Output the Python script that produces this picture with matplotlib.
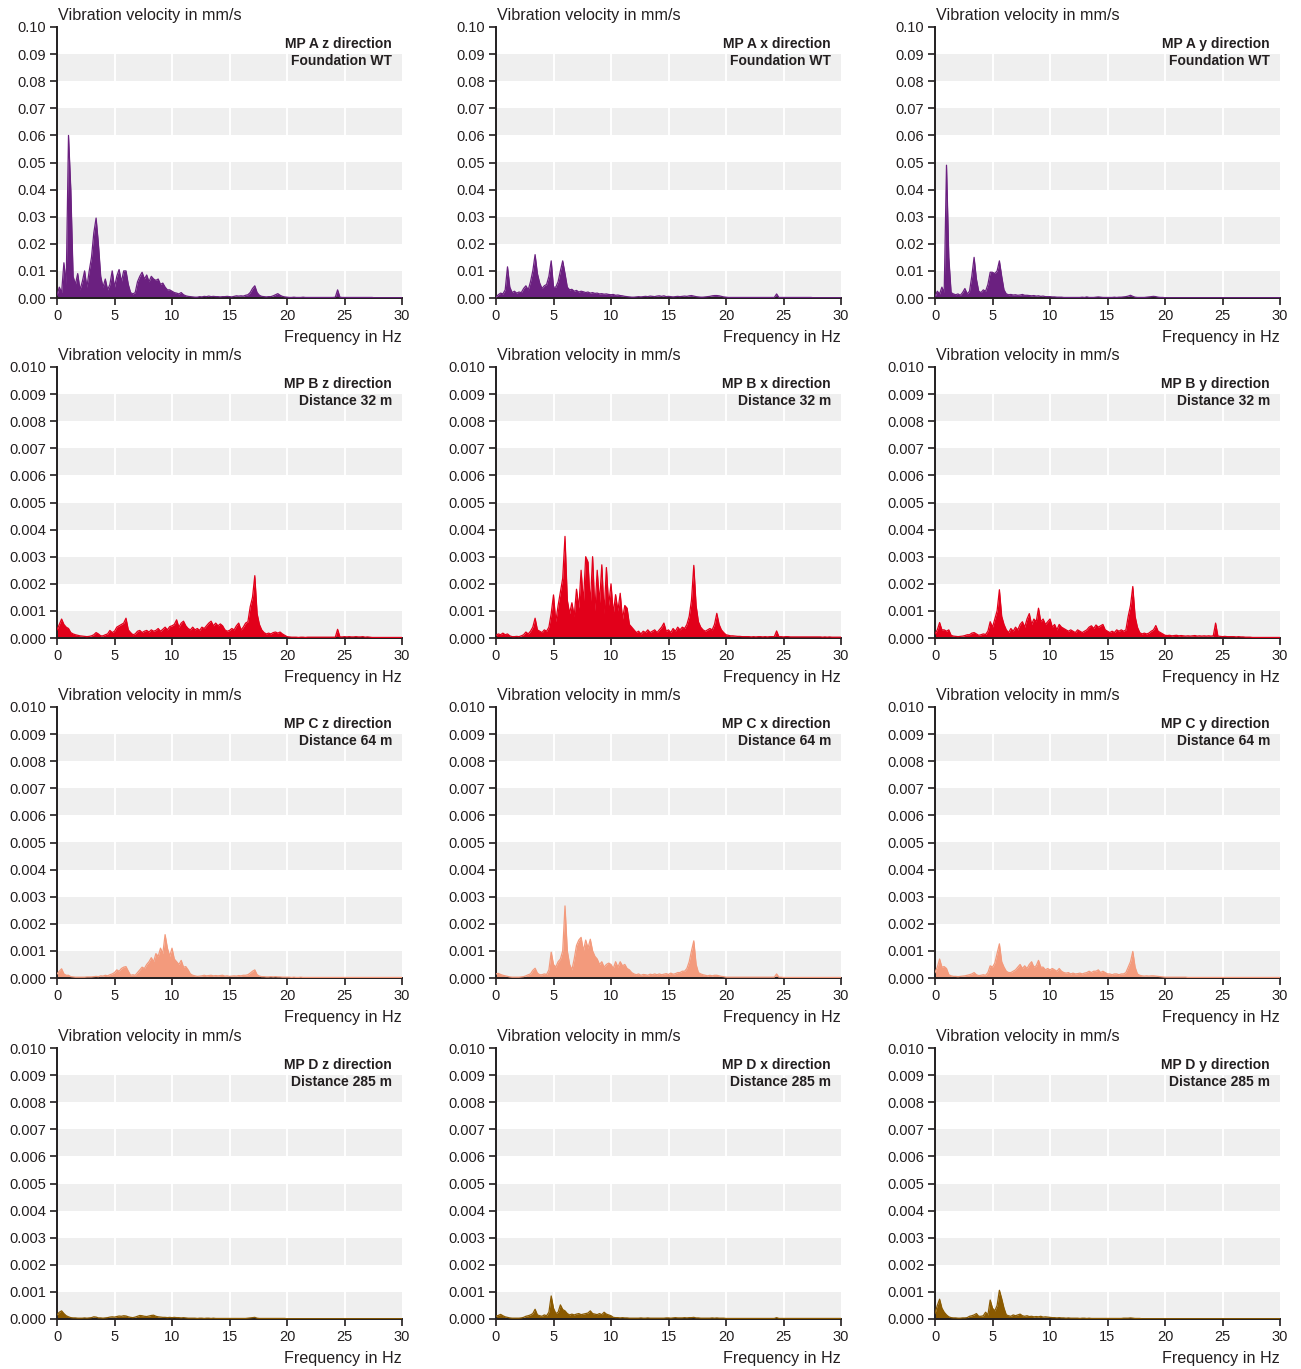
import numpy as np
import matplotlib
matplotlib.use("Agg")
import matplotlib.pyplot as plt

plt.rcParams['font.family'] = ['Liberation Sans', 'DejaVu Sans']

# spectra sampled 0..30 Hz every 0.2 Hz (151 values)
# MP A values in 0.001 mm/s, MP B-D values in 0.0001 mm/s
freq_step = 0.2
x_ticks = [0, 5, 10, 15, 20, 25, 30]

mp_a_z = [1, 4, 2, 13, 5, 60, 40, 8, 5, 9,
          3, 6, 10, 4, 10, 15, 24, 29.5, 20, 8,
          4, 7, 3, 5, 10, 4, 8, 10.5, 6, 10,
          10, 5, 2, 1.5, 2, 6, 8, 9.5, 7, 8.5,
          6, 8, 7, 6.5, 7, 5, 5.5, 4, 3, 3,
          2.5, 2, 1.8, 1.5, 2, 1.2, 0.8, 0.6, 0.5, 0.4,
          0.3, 0.3, 0.5, 0.4, 0.6, 0.5, 0.7, 0.5, 0.6, 0.5,
          0.5, 0.4, 0.5, 0.5, 0.6, 0.5, 0.4, 0.6, 0.8, 0.7,
          0.8, 0.7, 1.0, 1.2, 2, 3.5, 4.5, 2, 1, 0.6,
          0.5, 0.4, 0.5, 0.5, 0.8, 1.2, 1.6, 1.0, 0.6, 0.4,
          0.3, 0.2, 0.2, 0.3, 0.2, 0.2, 0.2, 0.3, 0.2, 0.2,
          0.2, 0.2, 0.2, 0.2, 0.2, 0.2, 0.2, 0.2, 0.2, 0.2,
          0.2, 0.3, 3.0, 0.3, 0.2, 0.2, 0.2, 0.2, 0.2, 0.2,
          0.2, 0.2, 0.2, 0.2, 0.2, 0.2, 0.2, 0.2, 0.1, 0.1,
          0.1, 0.1, 0.1, 0.1, 0.1, 0.1, 0.1, 0.1, 0.1, 0.1,
          0.1]

mp_a_x = [0.3, 1.2, 1.8, 1.5, 3, 11.5, 4, 2, 2.5, 1.8,
          2.2, 2, 3.5, 4.5, 3, 6, 10, 16, 9, 5.5,
          3.5, 4.5, 5, 8, 13.7, 4, 4, 6, 10, 13.7,
          9, 4, 3, 3.2, 2.5, 2.8, 2.2, 2.5, 2.3, 2,
          2.2, 1.8, 2, 1.7, 1.8, 1.5, 1.6, 1.4, 1.5, 1.3,
          1.2, 1.3, 1.0, 1.1, 0.9, 0.8, 0.6, 0.5, 0.4, 0.3,
          0.3, 0.4, 0.5, 0.4, 0.5, 0.6, 0.5, 0.7, 0.6, 0.5,
          0.7, 0.8, 0.6, 0.8, 0.5, 0.6, 0.5, 0.4, 0.5, 0.6,
          0.5, 0.6, 0.7, 0.6, 0.8, 0.9, 0.7, 0.5, 0.4, 0.3,
          0.3, 0.4, 0.5, 0.6, 0.8, 0.9, 0.9, 0.8, 0.6, 0.4,
          0.3, 0.2, 0.2, 0.2, 0.2, 0.2, 0.2, 0.2, 0.2, 0.2,
          0.2, 0.2, 0.2, 0.2, 0.2, 0.2, 0.2, 0.2, 0.2, 0.2,
          0.2, 0.2, 1.5, 0.2, 0.2, 0.2, 0.2, 0.2, 0.2, 0.2,
          0.2, 0.2, 0.2, 0.2, 0.2, 0.2, 0.2, 0.2, 0.1, 0.1,
          0.1, 0.1, 0.1, 0.1, 0.1, 0.1, 0.1, 0.1, 0.1, 0.1,
          0.1]

mp_a_y = [0.5, 2.5, 1.5, 4, 2, 49, 15, 2, 1.5, 1.2,
          1.5, 1, 2, 3.5, 1.5, 2.5, 8, 15, 7, 2.5,
          2, 3, 2.5, 5, 9.5, 9.5, 9, 10, 13.7, 8,
          3, 1.5, 1.2, 1.3, 1.1, 1.2, 1.0, 1.1, 1.3, 1.0,
          1.0, 0.9, 0.8, 0.9, 0.7, 0.8, 0.6, 0.7, 0.5, 0.5,
          0.5, 0.4, 0.4, 0.3, 0.3, 0.3, 0.2, 0.2, 0.2, 0.2,
          0.2, 0.2, 0.2, 0.2, 0.3, 0.2, 0.4, 0.2, 0.2, 0.2,
          0.3, 0.4, 0.3, 0.2, 0.2, 0.2, 0.2, 0.2, 0.3, 0.2,
          0.3, 0.3, 0.4, 0.5, 0.7, 1.0, 0.6, 0.3, 0.2, 0.2,
          0.2, 0.2, 0.3, 0.4, 0.5, 0.6, 0.5, 0.3, 0.2, 0.2,
          0.1, 0.1, 0.1, 0.1, 0.1, 0.1, 0.1, 0.1, 0.1, 0.1,
          0.1, 0.1, 0.1, 0.1, 0.1, 0.1, 0.1, 0.1, 0.1, 0.1,
          0.1, 0.1, 0.1, 0.1, 0.1, 0.1, 0.1, 0.1, 0.1, 0.1,
          0.1, 0.1, 0.1, 0.1, 0.1, 0.1, 0.1, 0.1, 0.1, 0.1,
          0.1, 0.1, 0.1, 0.1, 0.1, 0.1, 0.1, 0.1, 0.1, 0.1,
          0.1]

mp_b_z = [3, 5, 7, 5, 4, 3.5, 2, 1.5, 1.2, 1,
          0.8, 0.7, 0.6, 0.5, 0.6, 0.8, 1.2, 2, 1.5, 0.8,
          0.8, 1.2, 1.5, 2.8, 2, 2.5, 4, 4.5, 5, 5.5,
          7.3, 3, 2, 1.2, 1.5, 2.5, 2.8, 2, 2.5, 2.8,
          2.2, 3, 2.5, 2.8, 3.5, 2.5, 3.2, 4, 3, 4.2,
          4.5, 5, 6.7, 4, 5.5, 6.2, 4.5, 3.5, 3, 4,
          3, 3.5, 2.8, 4, 3.5, 4.5, 5.5, 6.2, 4.5, 5.5,
          4.5, 5.2, 4.5, 3, 2.5, 2.8, 3.5, 3, 4.5, 5.5,
          3, 4, 5.5, 6, 11.5, 15, 23, 9, 5, 3,
          2, 1.5, 1.8, 1.5, 2, 2.2, 1.8, 2.2, 1.5, 1.0,
          0.5, 0.4, 0.3, 0.3, 0.3, 0.2, 0.3, 0.3, 0.2, 0.3,
          0.3, 0.3, 0.3, 0.3, 0.3, 0.3, 0.3, 0.3, 0.3, 0.3,
          0.3, 0.3, 3.2, 0.4, 0.4, 0.5, 0.4, 0.5, 0.4, 0.4,
          0.5, 0.4, 0.4, 0.5, 0.3, 0.4, 0.3, 0.2, 0.2, 0.2,
          0.2, 0.2, 0.2, 0.2, 0.2, 0.2, 0.2, 0.2, 0.2, 0.2,
          0.2]

mp_b_x = [1, 1.5, 1.2, 1.8, 1.2, 1.5, 0.8, 0.5, 0.5, 0.6,
          0.5, 0.8, 1.2, 2.2, 1.5, 2.5, 4, 7.3, 3, 2.5,
          2, 3, 2.5, 4, 9, 15.9, 6, 12, 17, 22,
          37.5, 14, 9, 13, 8, 18, 11, 25, 13, 30,
          28, 12, 30, 10, 25, 13, 27, 9, 26, 12,
          20, 9, 16, 10, 16.5, 7, 12, 11, 5, 4,
          3, 2, 2.5, 1.5, 2.5, 2, 3, 2, 2.5, 3,
          2, 3, 4, 5.5, 2.5, 3, 2, 3.5, 2.5, 4,
          3, 4, 3.5, 5, 8, 14, 26.8, 12, 6, 4,
          3, 2.5, 3, 3.5, 3, 5, 9.1, 5, 3, 2,
          1.2, 1.0, 0.8, 0.8, 0.7, 0.6, 0.6, 0.5, 0.5, 0.5,
          0.5, 0.4, 0.5, 0.4, 0.5, 0.5, 0.4, 0.5, 0.4, 0.5,
          0.5, 0.5, 2.6, 0.5, 0.5, 0.4, 0.5, 0.5, 0.4, 0.4,
          0.4, 0.4, 0.4, 0.4, 0.4, 0.4, 0.4, 0.4, 0.4, 0.4,
          0.4, 0.4, 0.3, 0.4, 0.3, 0.4, 0.3, 0.3, 0.3, 0.3,
          0.3]

mp_b_y = [1.5, 3, 5.7, 3, 3, 2.5, 3, 1, 0.7, 0.6,
          0.5, 0.6, 0.7, 0.9, 1.2, 1.2, 1.8, 2, 1.5, 1,
          1.2, 1.5, 1.3, 2.5, 6, 4, 7, 10, 17.8, 8,
          5, 3, 2, 3.5, 2.5, 4, 3, 5, 6, 4,
          7, 9, 5, 7, 6, 11, 6, 7, 5, 6,
          7, 4, 5, 3, 5, 4, 3.5, 3, 2.5, 3,
          2.5, 2, 3, 2.5, 2, 2.5, 3, 4, 4.5, 3.5,
          4.8, 4, 4.5, 5, 3, 2.5, 2, 2.5, 2, 3,
          2.5, 3, 2.5, 3, 8, 12, 19, 8, 4, 2,
          1.5, 1.8, 1.5, 1.8, 2.5, 3, 4.6, 2.5, 2, 1.5,
          1, 0.9, 1, 0.8, 0.9, 1, 0.8, 0.9, 0.8, 0.7,
          0.8, 0.7, 0.8, 0.9, 0.7, 0.8, 0.7, 0.8, 0.7, 0.8,
          0.7, 0.8, 5.5, 0.7, 0.6, 0.5, 0.6, 0.5, 0.5, 0.5,
          0.5, 0.4, 0.5, 0.4, 0.4, 0.3, 0.3, 0.3, 0.2, 0.2,
          0.2, 0.2, 0.2, 0.2, 0.2, 0.2, 0.2, 0.2, 0.2, 0.2,
          0.2]

mp_c_z = [1.5, 2.5, 3.4, 1.5, 1, 1, 0.5, 0.4, 0.3, 0.3,
          0.3, 0.3, 0.3, 0.4, 0.4, 0.4, 0.5, 0.6, 0.5, 0.8,
          0.7, 1, 0.8, 1.2, 1.5, 2, 3, 2.5, 3.5, 4,
          4.2, 2.5, 1, 1.2, 1, 2, 3, 4, 3.5, 5,
          6, 7.5, 6, 9, 8, 11, 9, 16, 11, 8,
          11, 7, 6, 5, 6.5, 4, 4.2, 3, 1.5, 1,
          0.8, 0.6, 0.7, 0.8, 1, 0.8, 0.9, 1, 0.8, 0.9,
          0.8, 0.9, 1, 0.7, 0.8, 0.6, 0.7, 0.8, 0.7, 0.9,
          0.8, 1, 1, 1.2, 1.8, 2.5, 3, 1.2, 0.7, 0.5,
          0.5, 0.4, 0.4, 0.5, 0.4, 0.5, 0.4, 0.4, 0.3, 0.3,
          0.3, 0.3, 0.2, 0.3, 0.2, 0.2, 0.3, 0.2, 0.2, 0.2,
          0.2, 0.2, 0.2, 0.2, 0.2, 0.2, 0.2, 0.2, 0.2, 0.2,
          0.2, 0.2, 0.2, 0.2, 0.2, 0.2, 0.2, 0.2, 0.2, 0.2,
          0.2, 0.2, 0.2, 0.2, 0.2, 0.2, 0.2, 0.2, 0.2, 0.2,
          0.2, 0.2, 0.2, 0.2, 0.2, 0.2, 0.2, 0.2, 0.2, 0.2,
          0.2]

mp_c_x = [1.5, 1.7, 1.3, 1, 0.8, 0.6, 0.4, 0.3, 0.3, 0.3,
          0.3, 0.4, 0.5, 0.8, 1.2, 1.5, 2.8, 3.6, 1.8, 1.2,
          1.2, 1.5, 1.3, 3, 9.5, 5, 4, 6, 7, 10,
          26.6, 10, 5, 3, 7, 12, 14, 15, 10, 14,
          11, 14.3, 10, 8, 7, 5, 6, 4, 5, 5.5,
          5, 3.5, 6, 4, 6, 4.5, 5, 3.5, 3, 2,
          1.5, 1.2, 1.5, 1, 1.3, 1.2, 1, 1.4, 1.2, 1.5,
          1.2, 1.5, 1.2, 1.4, 1.6, 1.3, 1.8, 1.4, 1.6, 2,
          2, 2.5, 2.5, 3.5, 6, 10, 13.7, 5, 2, 1.5,
          1.2, 1, 0.8, 1, 0.8, 1, 1, 0.8, 0.6, 0.5,
          0.3, 0.3, 0.3, 0.3, 0.3, 0.3, 0.3, 0.3, 0.3, 0.3,
          0.3, 0.3, 0.3, 0.3, 0.3, 0.3, 0.3, 0.3, 0.3, 0.3,
          0.3, 0.3, 1.5, 0.3, 0.3, 0.2, 0.2, 0.2, 0.2, 0.2,
          0.2, 0.2, 0.2, 0.2, 0.2, 0.2, 0.2, 0.2, 0.2, 0.2,
          0.2, 0.2, 0.2, 0.2, 0.2, 0.2, 0.2, 0.2, 0.2, 0.2,
          0.2]

mp_c_y = [2, 4, 7, 4, 4.2, 3.5, 1.2, 0.8, 0.6, 0.6,
          0.5, 0.6, 0.7, 0.8, 1, 1.2, 1.5, 2, 1.2, 0.9,
          1, 1.2, 1, 2, 4.5, 4, 5.5, 9, 12.6, 6,
          4, 2.5, 2, 2, 2.5, 3, 4, 5, 3.5, 4.5,
          3.5, 5, 6, 4, 4.5, 6.5, 4, 4, 3, 3.5,
          3, 3.5, 3, 2.5, 3.5, 2.5, 2, 1.8, 2, 1.5,
          1.8, 1.5, 1.6, 1.8, 1.5, 1.8, 2, 2.5, 2, 2.5,
          2.5, 3, 2, 2.5, 2, 1.5, 1.5, 1.2, 1.5, 1.5,
          1.2, 1.5, 1.5, 2, 4, 6, 9.8, 4, 1.5, 1,
          0.8, 0.7, 0.8, 0.7, 0.8, 0.8, 0.7, 0.6, 0.5, 0.4,
          0.3, 0.3, 0.3, 0.3, 0.3, 0.3, 0.3, 0.3, 0.3, 0.3,
          0.2, 0.2, 0.2, 0.2, 0.2, 0.2, 0.2, 0.2, 0.2, 0.2,
          0.2, 0.2, 0.2, 0.2, 0.2, 0.2, 0.2, 0.2, 0.2, 0.2,
          0.2, 0.2, 0.2, 0.2, 0.2, 0.2, 0.2, 0.2, 0.2, 0.2,
          0.2, 0.2, 0.2, 0.2, 0.2, 0.2, 0.2, 0.2, 0.2, 0.2,
          0.2]

mp_d_z = [1.5, 2.5, 3, 2, 1.2, 0.8, 0.5, 0.4, 0.4, 0.3,
          0.3, 0.3, 0.4, 0.3, 0.4, 0.5, 0.8, 0.7, 0.4, 0.4,
          0.3, 0.4, 0.5, 0.7, 0.8, 0.7, 0.9, 1.1, 1.0, 1.2,
          1.1, 0.8, 0.6, 0.5, 0.7, 1.0, 1.3, 1.2, 1.0, 0.9,
          1.1, 1.3, 1.4, 1.0, 0.8, 0.7, 0.6, 0.6, 0.5, 0.6,
          0.5, 0.6, 0.5, 0.5, 0.4, 0.5, 0.4, 0.3, 0.3, 0.3,
          0.3, 0.2, 0.3, 0.3, 0.2, 0.3, 0.3, 0.2, 0.3, 0.2,
          0.2, 0.2, 0.2, 0.2, 0.2, 0.2, 0.2, 0.2, 0.2, 0.2,
          0.2, 0.2, 0.2, 0.3, 0.4, 0.5, 0.6, 0.3, 0.2, 0.2,
          0.2, 0.2, 0.2, 0.2, 0.2, 0.2, 0.2, 0.2, 0.2, 0.2,
          0.1, 0.1, 0.1, 0.1, 0.1, 0.1, 0.1, 0.1, 0.1, 0.1,
          0.1, 0.1, 0.1, 0.1, 0.1, 0.1, 0.1, 0.1, 0.1, 0.1,
          0.1, 0.1, 0.1, 0.1, 0.1, 0.1, 0.1, 0.1, 0.1, 0.1,
          0.1, 0.1, 0.1, 0.1, 0.1, 0.1, 0.1, 0.1, 0.1, 0.1,
          0.1, 0.1, 0.1, 0.1, 0.1, 0.1, 0.1, 0.1, 0.1, 0.1,
          0.1]

mp_d_x = [1, 1.3, 1.7, 1.2, 0.8, 0.6, 0.4, 0.3, 0.3, 0.3,
          0.3, 0.4, 0.6, 1, 1.2, 1.5, 2, 3.6, 1.5, 1.2,
          1, 1.5, 1.2, 2.5, 8.5, 4, 2, 2.5, 5.2, 3.5,
          3, 2, 1.5, 1.8, 1.5, 1.8, 2, 1.6, 1.8, 2,
          2.2, 3, 2, 1.8, 1.6, 2, 1.6, 2.5, 1.8, 1.5,
          1.2, 0.6, 0.5, 0.5, 0.4, 0.5, 0.4, 0.4, 0.3, 0.3,
          0.3, 0.3, 0.3, 0.4, 0.3, 0.3, 0.4, 0.3, 0.3, 0.3,
          0.3, 0.3, 0.3, 0.3, 0.4, 0.4, 0.3, 0.4, 0.5, 0.4,
          0.4, 0.4, 0.5, 0.4, 0.5, 0.5, 0.6, 0.4, 0.4, 0.3,
          0.3, 0.3, 0.3, 0.3, 0.4, 0.3, 0.4, 0.3, 0.3, 0.3,
          0.2, 0.2, 0.2, 0.2, 0.2, 0.2, 0.2, 0.2, 0.2, 0.2,
          0.2, 0.2, 0.2, 0.2, 0.2, 0.2, 0.2, 0.2, 0.2, 0.2,
          0.2, 0.2, 0.5, 0.2, 0.2, 0.2, 0.2, 0.2, 0.2, 0.2,
          0.2, 0.2, 0.2, 0.2, 0.2, 0.2, 0.2, 0.2, 0.2, 0.2,
          0.2, 0.2, 0.2, 0.2, 0.2, 0.2, 0.2, 0.2, 0.2, 0.2,
          0.2]

mp_d_y = [2, 5, 7.3, 4, 2.5, 1.5, 0.8, 0.5, 0.4, 0.4,
          0.3, 0.3, 0.4, 0.4, 0.5, 1, 1.2, 1.5, 2, 1,
          1, 1.2, 2.5, 1.5, 7, 4, 3, 5, 10.6, 7.5,
          4, 1.5, 1.2, 1, 1.5, 1.2, 1.5, 1.8, 1.2, 1,
          1.2, 0.9, 1, 0.8, 0.9, 0.8, 1, 0.7, 0.8, 0.7,
          0.6, 0.5, 0.5, 0.4, 0.5, 0.4, 0.4, 0.3, 0.4, 0.3,
          0.3, 0.3, 0.3, 0.2, 0.3, 0.3, 0.2, 0.3, 0.2, 0.2,
          0.2, 0.2, 0.2, 0.2, 0.2, 0.2, 0.2, 0.2, 0.2, 0.2,
          0.2, 0.2, 0.3, 0.3, 0.3, 0.4, 0.3, 0.2, 0.2, 0.2,
          0.1, 0.1, 0.1, 0.1, 0.1, 0.1, 0.1, 0.1, 0.1, 0.1,
          0.1, 0.1, 0.1, 0.1, 0.1, 0.1, 0.1, 0.1, 0.1, 0.1,
          0.1, 0.1, 0.1, 0.1, 0.1, 0.1, 0.1, 0.1, 0.1, 0.1,
          0.1, 0.1, 0.1, 0.1, 0.1, 0.1, 0.1, 0.1, 0.1, 0.1,
          0.1, 0.1, 0.1, 0.1, 0.1, 0.1, 0.1, 0.1, 0.1, 0.1,
          0.1, 0.1, 0.1, 0.1, 0.1, 0.1, 0.1, 0.1, 0.1, 0.1,
          0.1]

titles = ["MP A z direction", "MP A x direction", "MP A y direction",
          "MP B z direction", "MP B x direction", "MP B y direction",
          "MP C z direction", "MP C x direction", "MP C y direction",
          "MP D z direction", "MP D x direction", "MP D y direction"]
subtitles = ["Foundation WT", "Distance 32 m", "Distance 64 m", "Distance 285 m"]
row_colors = ["#6b2080", "#e2001a", "#f39a7c", "#8b5a00"]
row_scale = [1e-3, 1e-4, 1e-4, 1e-4]
row_ymax = [0.10, 0.010, 0.010, 0.010]
row_fmt = ["%.2f", "%.3f", "%.3f", "%.3f"]

spectra = [mp_a_z, mp_a_x, mp_a_y,
           mp_b_z, mp_b_x, mp_b_y,
           mp_c_z, mp_c_x, mp_c_y,
           mp_d_z, mp_d_x, mp_d_y]

ink = "#231f20"
W, H = 1301, 1369
fig = plt.figure(figsize=(W / 100, H / 100), dpi=100)

col_left = [57, 496, 935]
row_top = [27, 367, 707, 1048]
ax_w, ax_h = 345, 271

for i, vals in enumerate(spectra):
    r, c = divmod(i, 3)
    ax = fig.add_axes([col_left[c] / W, 1 - (row_top[r] + ax_h) / H, ax_w / W, ax_h / H])
    ymax = row_ymax[r]
    step = ymax / 10
    v = np.array(vals) * row_scale[r]
    f = np.arange(len(v)) * freq_step

    # grey bands and white vertical gridlines
    for k in range(0, 10, 2):
        ax.axhspan(k * step, (k + 1) * step, color="#efefef", lw=0, zorder=0)
    for xv in x_ticks[1:-1]:
        ax.axvline(xv, color="white", lw=1.4, zorder=1)

    ax.fill_between(f, 0, v, color=row_colors[r], lw=0, zorder=2)
    ax.plot(f, v, color=row_colors[r], lw=0.9, zorder=3)

    ax.set_xlim(0, 30)
    ax.set_ylim(0, ymax)
    ax.set_xticks(x_ticks)
    yt = np.linspace(0, ymax, 11)
    ax.set_yticks(yt)
    ax.set_yticklabels([row_fmt[r] % t for t in yt])

    for s in ["top", "right"]:
        ax.spines[s].set_visible(False)
    for s in ["left", "bottom"]:
        ax.spines[s].set_color(ink)
        ax.spines[s].set_linewidth(1.4)
    ax.tick_params(direction="out", length=5, width=1.2, color=ink,
                   labelcolor=ink, labelsize=10.5, pad=3)

    ax.text(0.003, 1.044, "Vibration velocity in mm/s", transform=ax.transAxes,
            ha="left", va="center", fontsize=11.6, color=ink)
    ax.text(1.0, -0.145, "Frequency in Hz", transform=ax.transAxes,
            ha="right", va="center", fontsize=11.6, color=ink)
    ax.text(0.971, 0.938, titles[i], transform=ax.transAxes, ha="right",
            va="center", fontsize=10, fontweight="bold", color=ink)
    ax.text(0.971, 0.875, subtitles[r], transform=ax.transAxes, ha="right",
            va="center", fontsize=10, fontweight="bold", color=ink)

fig.savefig("out.png", dpi=100)
